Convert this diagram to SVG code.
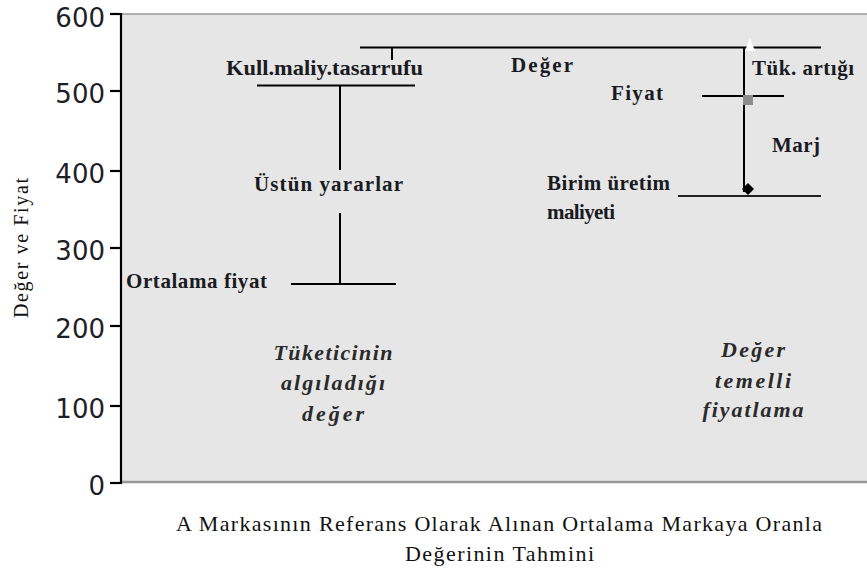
<svg xmlns="http://www.w3.org/2000/svg" width="867" height="574" viewBox="0 0 867 574">
<style>
.tick{font-family:"DejaVu Sans",Verdana,sans-serif;font-size:26px;fill:#1e1e28;text-anchor:end}
.lbl{font-family:"Liberation Serif","Times New Roman",serif;font-size:21px;font-weight:bold;fill:#1a1a22}
.it{font-family:"Liberation Serif","Times New Roman",serif;font-size:22px;font-weight:bold;font-style:italic;fill:#2a2a2a;text-anchor:middle}
.cap{font-family:"Liberation Serif","Times New Roman",serif;font-size:22px;fill:#111}
.ln{stroke:#000;stroke-width:2;fill:none}
.ax{stroke:#000;stroke-width:2.2;fill:none}
</style>
<rect width="867" height="574" fill="#fff"/>
<g id="plot">
<rect x="121" y="14" width="746" height="468" fill="#e6e6e6"/>
<line x1="121" y1="14" x2="867" y2="14" stroke="#9a9a9a" stroke-width="1.5"/>
<line x1="121" y1="482" x2="867" y2="482" stroke="#999" stroke-width="2.5"/>
</g>
<g id="axis">
<line class="ax" x1="121" y1="13" x2="121" y2="484"/>
<g class="ax">
<line x1="110" y1="14" x2="121" y2="14"/>
<line x1="110" y1="91" x2="121" y2="91"/>
<line x1="110" y1="171" x2="121" y2="171"/>
<line x1="110" y1="248" x2="121" y2="248"/>
<line x1="110" y1="326" x2="121" y2="326"/>
<line x1="110" y1="406" x2="121" y2="406"/>
<line x1="110" y1="483" x2="121" y2="483"/>
</g>
<text class="tick" x="105" y="27">600</text>
<text class="tick" x="105" y="103">500</text>
<text class="tick" x="105" y="183">400</text>
<text class="tick" x="105" y="260">300</text>
<text class="tick" x="105" y="338">200</text>
<text class="tick" x="105" y="418">100</text>
<text class="tick" x="105" y="495">0</text>
<text transform="translate(28,248) rotate(-90)" text-anchor="middle" font-family="Liberation Serif, Times New Roman, serif" font-size="20" fill="#111" textLength="140" lengthAdjust="spacing">Değer ve Fiyat</text>
</g>
<g id="connectors">
<line class="ln" x1="360" y1="47.5" x2="821" y2="47.5"/>
<line class="ln" x1="392" y1="47.5" x2="392" y2="60"/>
<line class="ln" x1="257" y1="85.5" x2="415" y2="85.5"/>
<line class="ln" x1="340" y1="85.5" x2="340" y2="170"/>
<line class="ln" x1="340" y1="213" x2="340" y2="284"/>
<line class="ln" x1="291" y1="284" x2="396" y2="284"/>
<line class="ln" x1="744" y1="47.5" x2="744" y2="192"/>
<line class="ln" x1="702" y1="96" x2="784" y2="96"/>
<line x1="678" y1="196" x2="821" y2="196" stroke="#222" stroke-width="2"/>
<polygon points="750,38 745,51 755,51" fill="#fff"/>
<rect x="743" y="95" width="10" height="10" fill="#8c8c8c"/>
<polygon points="748,183 754,189 748,195 742,189" fill="#000"/>
</g>
<g id="deger"><text class="lbl" x="511" y="72" textLength="62" lengthAdjust="spacing">Değer</text></g>
<g id="kull"><text class="lbl" x="226" y="75" textLength="197" lengthAdjust="spacingAndGlyphs">Kull.maliy.tasarrufu</text></g>
<g id="ustun"><text class="lbl" x="254" y="191" textLength="149" lengthAdjust="spacing">Üstün yararlar</text></g>
<g id="ortalama"><text class="lbl" x="126" y="288" textLength="141" lengthAdjust="spacing">Ortalama fiyat</text></g>
<g id="tuk"><text class="lbl" x="752" y="75" textLength="102" lengthAdjust="spacing">Tük. artığı</text></g>
<g id="fiyat"><text class="lbl" x="611" y="100" textLength="52" lengthAdjust="spacing">Fiyat</text></g>
<g id="marj"><text class="lbl" x="772" y="152" textLength="48" lengthAdjust="spacing">Marj</text></g>
<g id="birim">
<text class="lbl" x="547" y="190" textLength="123" lengthAdjust="spacing">Birim üretim</text>
<text class="lbl" x="547" y="219" textLength="68" lengthAdjust="spacing">maliyeti</text>
</g>
<g id="tuketici">
<text class="it" x="333" y="360" textLength="119" lengthAdjust="spacing">Tüketicinin</text>
<text class="it" x="333" y="390" textLength="104" lengthAdjust="spacing">algıladığı</text>
<text class="it" x="333" y="421" textLength="62" lengthAdjust="spacing">değer</text>
</g>
<g id="degertemelli">
<text class="it" x="753" y="357" textLength="64" lengthAdjust="spacing">Değer</text>
<text class="it" x="753" y="388" textLength="76" lengthAdjust="spacing">temelli</text>
<text class="it" x="753" y="417" textLength="101" lengthAdjust="spacing">fiyatlama</text>
</g>
<g id="caption">
<text class="cap" x="176" y="531" textLength="646" lengthAdjust="spacing">A Markasının Referans Olarak Alınan Ortalama Markaya Oranla</text>
<text class="cap" x="405" y="561" textLength="189" lengthAdjust="spacing">Değerinin Tahmini</text>
</g>
</svg>
